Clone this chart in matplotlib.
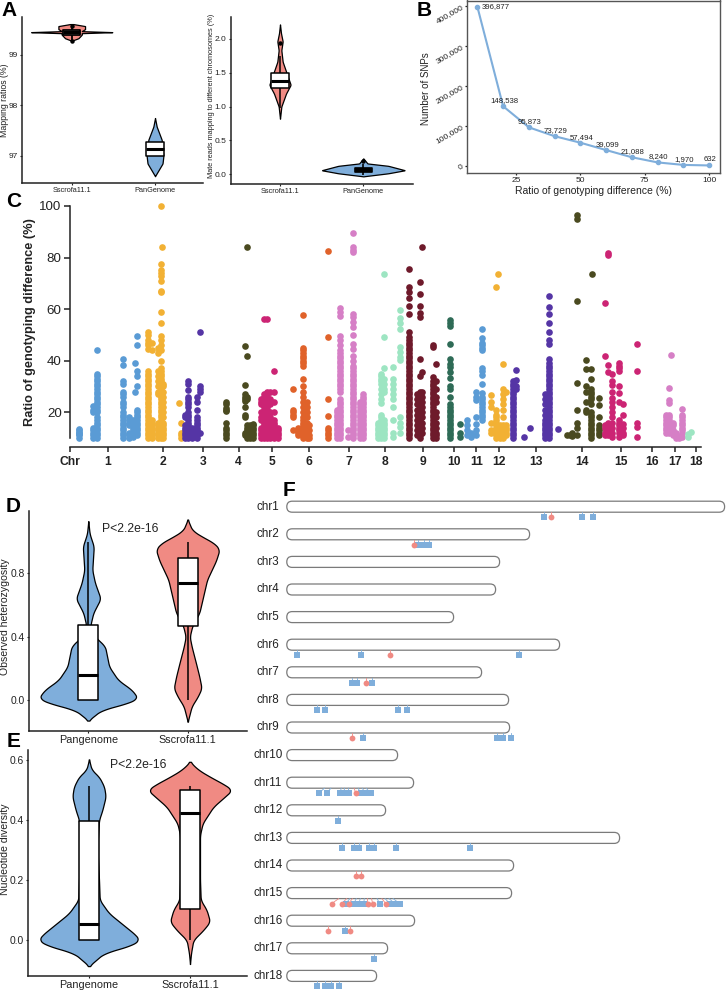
#!/usr/bin/env python3
"""Multi panel figure: mapping violins, SNP curve, Manhattan plot, chromosome map."""
import numpy as np
import matplotlib
matplotlib.use('Agg')
import matplotlib.pyplot as plt
from matplotlib.patches import FancyBboxPatch

plt.rcParams['font.family'] = ['Liberation Sans', 'DejaVu Sans']

W, H = 726, 992
RED = '#F08A83'
BLUE = '#7FAEDB'
INK = '#222222'

# --- panel A: violin outlines as (value, half width) ---
a1_scr_y = [99.61, 99.57, 99.51, 99.47, 99.45, 99.43, 99.40, 99.33, 99.28]
a1_scr_w = [0.02, 0.16, 0.16, 0.12, 0.50, 0.12, 0.12, 0.08, 0.0]
a1_pan_y = [97.75, 97.58, 97.32, 96.99, 96.85, 96.60]
a1_pan_w = [0.0, 0.02, 0.08, 0.10, 0.09, 0.0]
a2_scr_y = [2.21, 2.08, 1.96, 1.83, 1.66, 1.49, 1.32, 1.19, 1.0, 0.82]
a2_scr_w = [0.0, 0.012, 0.032, 0.016, 0.032, 0.08, 0.128, 0.072, 0.016, 0.0]
a2_pan_y = [0.235, 0.16, 0.125, 0.06, 0.015, -0.03]
a2_pan_w = [0.0, 0.05, 0.30, 0.50, 0.30, 0.0]

# --- panel B ---
ratio_x = [10, 20, 30, 40, 50, 60, 70, 80, 90, 100]
snp_counts = [396877, 148538, 95873, 73729, 57494, 39099, 21088, 8240, 1970, 632]

# --- panel C: (position, ratios) columns per chromosome ---
chr1_pts = [(79, [10, 11, 11.5, 12, 12.5, 13, 13.5]),
            (93, [10, 11, 12, 13, 14, 20, 21, 22.5]),
            (97, [10, 11, 12, 13, 14, 15, 16, 17, 18, 20, 21, 22, 23, 24, 25, 26, 27, 28, 29, 30, 31, 32, 33, 34, 35, 44]),
            (123, [10, 11, 12, 13, 14, 15, 16, 17, 18, 19, 20, 22, 23, 24, 26, 27, 28, 31, 32, 38.5, 40.5]),
            (129, [10, 11, 12, 15, 16, 17, 18]),
            (133, [10.5, 11, 12, 13, 14, 15, 16, 17]),
            (135, [12, 13, 14, 28, 39]),
            (137, [11, 12, 13, 14, 15, 16, 17, 18, 19, 20, 21, 30, 34, 36, 46, 49.5])]
chr2_pts = [(148, [10, 11, 12, 13, 14, 15, 16, 17, 18, 19, 20, 21, 22, 23, 24, 25, 26, 27, 28, 29, 30, 31, 32, 33, 34, 35, 36, 44.5, 46, 47, 48, 50, 51]),
            (152, [10, 11, 12, 13, 14, 15, 16, 17, 44, 47]),
            (158, [10, 11, 12, 13, 14, 15, 16, 27, 28, 30, 32, 34, 36, 43, 45]),
            (160.7, [10, 11, 12, 13, 14, 15, 16, 17, 18, 19, 20, 21, 22, 23, 24, 25, 26, 27, 28, 29, 30, 31, 32, 33, 34, 35, 36, 37, 40, 44, 46, 48, 49.5, 54.5, 59, 66.5, 67, 71, 73, 74, 75, 77.5, 100]),
            (162, [84]),
            (163, [10, 11, 12, 13, 14, 15, 16, 18, 20, 22, 24, 26, 28, 30, 31]),
            (179, [23.5]),
            (181, [10, 11, 12, 16])]
chr3_pts = [(185, [10, 11, 12, 13, 14, 15, 18, 19]),
            (188, [10, 11, 12, 13, 14, 15, 16, 17, 18, 19, 20, 22, 23, 24, 25, 26, 28.5, 31, 32]),
            (192, [10, 11, 12, 13, 14]),
            (196.7, [10, 11, 12, 13, 14, 15, 16, 17, 18, 21, 24, 26]),
            (200, [12, 28, 29, 30, 51])]
chr4_pts = [(226, [10, 11, 12, 13, 14, 16, 20.5, 21, 21.5, 23, 24]),
            (245, [11, 12, 18, 19, 22, 24.5, 25, 26, 27, 30.5, 45.5]),
            (247, [10, 11, 12, 13, 14, 15, 25, 26, 42, 84]),
            (250, [10, 11, 12, 13, 14, 15]),
            (253, [10, 11, 12, 13, 14, 15, 15.5])]
chr5_pts = [(261, [10, 11, 12, 13, 14, 17, 18, 20, 23, 24, 25]),
            (264, [10, 11, 12, 13, 14, 15, 16, 17, 18, 19, 20, 21, 22, 23, 24, 25, 26, 27, 56]),
            (267, [10, 11, 12, 13, 14, 15, 16, 17, 18, 19, 20, 21, 22, 23, 24, 25, 26, 27, 28, 56]),
            (270, [10, 11, 12, 13, 14, 15, 16, 17, 18, 20, 23, 25, 28]),
            (274, [10, 11, 12, 13, 14, 15, 16, 17, 20, 24, 28, 35.8]),
            (278, [10, 11, 12, 13, 14])]
chr6_pts = [(293, [13, 18, 19, 20, 21, 29]),
            (298, [11, 12, 13, 14]),
            (302.7, [10, 11, 12, 13, 14, 15, 16, 17, 18, 20, 22, 24, 26, 28, 30, 33, 38, 39, 40, 41, 42, 43, 44, 45, 57.7]),
            (306.7, [10, 11, 12, 14, 16, 18, 20, 22, 24]),
            (309, [10, 11, 13, 15]),
            (328, [10, 11, 12, 13, 14, 18.7, 25.3, 49, 82.5])]
chr7_pts = [(337, [10, 11, 12, 13, 14, 15, 16, 17, 18, 19, 20, 21]),
            (340, [10, 11, 12, 13, 14, 15, 16, 17, 18, 19, 20, 21, 22, 23, 24, 25, 28, 29, 30, 31, 32, 33, 34, 35, 36, 37, 38, 39, 40, 41, 42, 43, 44, 46, 48, 49.5, 57.5, 59, 60.5]),
            (348, [10.5, 13]),
            (353, [10, 11, 12, 13, 14, 15, 16, 17, 18, 19, 20, 21, 22, 23, 24, 25, 26, 27, 28, 29, 30, 31, 32, 33, 34, 35, 36, 37, 38, 40, 42, 44.5, 46.5, 50, 53, 55, 57, 58, 82, 83, 84, 89.5]),
            (360, [10, 11, 12, 13, 14, 15, 16, 17, 18, 19, 20, 21, 22, 23, 24]),
            (363, [10, 11, 12, 13, 14, 15, 16, 17, 18, 19, 20, 21, 22, 23, 24, 25, 26, 27])]
chr8_pts = [(378, [10, 11, 12, 13, 14, 15, 16]),
            (381, [10, 11, 12, 13, 14, 15, 16, 17, 18, 19, 23.4, 25, 27, 29, 31, 32, 33, 34, 35]),
            (384, [10, 11, 12, 13, 14, 15, 16, 17, 28, 29, 31, 33, 37, 49.3, 73.6]),
            (393, [10.2, 11.8, 17, 22, 25.3, 27, 29, 31, 33, 37.4]),
            (400, [11.8, 14.4, 16, 18, 40.2, 41.5, 43.5, 45.4, 52.3, 54.5, 56.7, 59.6])]
chr9_pts = [(408.7, [10, 11, 12, 13, 14, 15, 16, 17, 18, 19, 20, 21, 22, 23, 24, 25, 26, 27, 28, 29, 30, 31, 32, 33, 34, 35, 36, 37, 38, 39, 40, 41, 42, 43, 44, 45, 46, 47, 48, 49, 51.2, 58, 61.3, 64.2, 66.8, 68.4, 75.4]),
            (417, [11, 13, 15, 17, 19, 21, 23, 25, 27]),
            (419.7, [10, 11, 12, 13, 14, 15, 16, 17, 18, 19, 20, 21, 22, 23, 24, 25, 26, 27, 28, 34, 40.6, 57, 58.6, 61.2, 65.7, 70.6]),
            (422.3, [12, 14, 16, 18, 20, 22, 24, 26, 28, 35.7, 84.2]),
            (433, [10, 11, 12, 13, 14, 15, 16, 17, 18, 19, 20, 21, 22, 23, 24, 25, 26, 27, 28, 29, 30, 31, 32, 33.8, 45.4, 46]),
            (436, [10, 11, 12, 14, 16, 18, 20, 24, 26, 29, 32, 38.9])]
chr10_pts = [(450.3, [10, 11, 12, 13, 14, 15, 16, 17, 18, 19, 20, 21, 22, 23, 26, 29, 30, 33.4, 35.7, 37.6, 38.9, 40.6, 46.3, 53.4, 54.5, 55.8]),
             (459.7, [10.5, 11.8, 15.3])]
chr11_pts = [(467, [11, 13, 15, 17]),
             (471, [10.5, 12]),
             (475.7, [11, 13, 15.6, 18, 24.6, 26, 28]),
             (482.3, [17, 18, 19, 20, 21, 22, 23, 24, 25, 26, 27.3, 30.9, 34.4, 36, 37, 44, 45, 46, 47, 48.6, 52.1])]
chr12_pts = [(491.3, [11.8, 13, 15.7, 22, 24, 26.6]),
             (496.3, [10, 11, 12, 13, 14, 15, 16, 17, 18, 19, 20.8, 68.4]),
             (497.7, [73.6]),
             (500, [10, 11, 12, 13, 14, 15]),
             (503, [10, 11, 12, 13, 14, 15, 18, 21, 23, 25, 27, 29, 38.9]),
             (506, [11, 12, 13, 14, 15, 28])]
chr13_pts = [(513, [10, 11, 12, 13, 14, 15, 16, 17, 18, 19, 20, 21, 22, 23, 24, 25, 26, 27, 28, 29, 30, 31, 32]),
             (515.7, [29, 30, 32.5, 36.4]),
             (524, [10.5]),
             (529.7, [14]),
             (544.7, [10, 11, 12, 13, 14, 15, 16, 17, 19, 21, 23, 25, 27]),
             (549, [10, 11, 12, 13, 14, 15, 16, 17, 18, 19, 20, 21, 22, 23, 24, 25, 26, 27, 28, 29, 30, 31, 32, 33, 34, 35, 36, 37, 38, 39, 40.6, 46.3, 48, 51.2, 54.5, 58, 60.7, 65]),
             (558.3, [13.5])]
chr14_pts = [(567, [11.1]), (570, [11.1]), (571.5, [10.8, 12]),
             (577.3, [11, 13.7, 16, 20.8, 31.2, 63, 94.8, 96.5]),
             (586, [20, 21, 24, 28, 30, 40.2, 36.7]),
             (590.7, [10, 11, 12, 13, 14, 15, 16, 17, 18, 19, 20, 23, 25, 26, 27, 28, 29, 32.7, 36.7]),
             (592, [73.6]),
             (599, [11, 12, 13, 14, 15, 18, 22.8, 25.4])]
chr15_pts = [(605.3, [11, 12, 14, 15, 42, 62.2]),
             (608.3, [11, 12, 13, 14, 15, 16, 38.3, 35.7, 81, 81.6]),
             (612.3, [10.5, 12, 14, 16, 18, 20, 22, 24, 25.5, 28, 30.7, 32, 35]),
             (619, [10.5, 12, 13, 14, 15, 16, 17, 24, 27.5, 30, 36, 37, 38, 39]),
             (623, [11, 12, 14, 15.5, 19, 23]),
             (637.3, [10.5, 14.4, 16, 36, 46.3])]
chr17_pts = [(666, [12, 13, 14, 15, 16, 17, 18, 19]),
             (669, [12, 13, 14, 15, 16, 17, 18, 19, 23.4, 24.7, 29.5]),
             (670.7, [42.2]),
             (673, [11, 12, 13, 15, 16]),
             (676, [10, 11, 12]),
             (679, [10, 10.5]),
             (682, [10.5, 12, 13, 14, 15, 16, 17, 18, 19, 21.4])]
chr18_pts = [(688, [10.2, 11.5]), (690.7, [12.5])]

manhattan = [(chr1_pts, '#5A9BD5'), (chr2_pts, '#F2B134'), (chr3_pts, '#5535A5'),
             (chr4_pts, '#4A4A20'), (chr5_pts, '#CC2474'), (chr6_pts, '#E0622A'),
             (chr7_pts, '#D67FC6'), (chr8_pts, '#9DE5C2'), (chr9_pts, '#6E1A2B'),
             (chr10_pts, '#2E6B56'), (chr11_pts, '#5A9BD5'), (chr12_pts, '#F2B134'),
             (chr13_pts, '#5535A5'), (chr14_pts, '#4A4A20'), (chr15_pts, '#CC2474'),
             (chr17_pts, '#D67FC6'), (chr18_pts, '#9DE5C2')]
chr_ticks = [70, 107.7, 163, 203, 238.7, 271.7, 309, 349, 385, 423, 454, 476.3, 498.7,
             536.3, 582, 620.7, 652.3, 674.7, 696.3]
chr_tick_labels = ['Chr', '1', '2', '3', '4', '5', '6', '7', '8', '9', '10', '11', '12',
                   '13', '14', '15', '16', '17', '18']

# --- panel D ---
d_pan_y = [1.13, 1.05, 0.97, 0.82, 0.74, 0.64, 0.55, 0.47, 0.40, 0.34, 0.21, 0.126, 0.063, 0.01, -0.02, -0.063, -0.13]
d_pan_w = [0, 0.013, 0.055, 0.04, 0.067, 0.124, 0.05, 0.02, 0.067, 0.168, 0.21, 0.30, 0.44, 0.50, 0.40, 0.134, 0]
d_scr_y = [1.14, 1.07, 1.03, 0.99, 0.95, 0.88, 0.76, 0.55, 0.47, 0.40, 0.337, 0.23, 0.147, 0.074, 0.02, -0.04, -0.137]
d_scr_w = [0, 0.047, 0.15, 0.27, 0.32, 0.285, 0.195, 0.117, 0.047, 0.02, 0.04, 0.084, 0.117, 0.14, 0.10, 0.04, 0]
d_pan_box = [0.0, 0.158, 0.474, 0.0, 1.0]
d_scr_box = [0.47, 0.737, 0.895, 0.0, 1.0]

# --- panel E ---
e_pan_y = [0.602, 0.567, 0.544, 0.511, 0.478, 0.433, 0.40, 0.311, 0.20, 0.133, 0.089, 0.044, 0.017, 0.0, -0.017, -0.044, -0.087]
e_pan_w = [0, 0.026, 0.10, 0.15, 0.165, 0.132, 0.099, 0.083, 0.099, 0.106, 0.198, 0.363, 0.462, 0.50, 0.43, 0.149, 0]
e_scr_y = [0.594, 0.567, 0.544, 0.517, 0.50, 0.483, 0.444, 0.389, 0.35, 0.20, 0.133, 0.10, 0.061, 0.033, 0.0, -0.044, -0.08]
e_scr_w = [0, 0.083, 0.198, 0.347, 0.419, 0.363, 0.231, 0.125, 0.099, 0.099, 0.106, 0.165, 0.198, 0.132, 0.033, 0.01, 0]
e_pan_box = [0.0, 0.052, 0.398, 0.0, 0.514]
e_scr_box = [0.102, 0.424, 0.50, 0.0, 0.514]

# --- panel F ---
chr_names = ['chr%d' % i for i in range(1, 19)]
chr_lengths = [438, 243, 213, 209, 167, 273, 195, 222, 223, 111, 127, 99, 333, 227, 225, 128, 101, 90]
blue_sites = {1: [257, 295, 306], 2: [131, 137, 142], 6: [10, 74, 232], 7: [65, 70, 85],
              8: [30, 38, 111, 120], 9: [76, 210, 216, 224],
              11: [32, 40, 53, 57, 62, 74, 79, 84], 12: [51],
              13: [55, 67, 72, 82, 87, 109, 183],
              15: [59, 67, 72, 77, 93, 103, 108, 113], 16: [58], 17: [87], 18: [30, 38, 44, 52]}
red_sites = {1: [264], 2: [127], 6: [103], 7: [79], 9: [65], 11: [69], 14: [69, 74],
             15: [45, 55, 62, 81, 86, 99], 16: [41, 63]}
crowded_rows = [11, 15]


def px_axes(fig, left, top, right, bottom):
    return fig.add_axes([left / W, 1 - bottom / H, (right - left) / W, (bottom - top) / H])


def classic(ax, lw=1.1, size=6, ticklen=1.5):
    ax.spines['top'].set_visible(False)
    ax.spines['right'].set_visible(False)
    ax.spines['left'].set_linewidth(lw)
    ax.spines['bottom'].set_linewidth(lw)
    ax.spines['left'].set_color(INK)
    ax.spines['bottom'].set_color(INK)
    ax.tick_params(labelsize=size, length=ticklen, width=0.8, pad=1.5, colors=INK)
    ax.patch.set_alpha(0)


def ylabel_at(ax, text, px_x, left, right, y=0.5, **kw):
    # px_x is the right edge of the rotated label
    ax.set_ylabel(text, color=INK, **kw)
    ax.yaxis.set_label_coords((px_x - left) / (right - left), y)


def violin(ax, cx, ys, ws, color, lw=0.9, smooth=15):
    order = np.argsort(ys)
    ys = np.array(ys, dtype=float)[order]
    ws = np.array(ws, dtype=float)[order]
    yy = np.linspace(ys[0], ys[-1], 400)
    hw = np.interp(yy, ys, ws)
    hw = np.convolve(hw, np.ones(smooth) / smooth, mode='same')
    ax.fill_betweenx(yy, cx - hw, cx + hw, facecolor=color, edgecolor='black', linewidth=lw, zorder=2)


def box(ax, cx, stats, hw, lw=1.1, med_lw=2.2):
    q1, med, q3, low, high = stats
    ax.plot([cx, cx], [low, high], color='black', lw=lw, zorder=3, solid_capstyle='butt')
    ax.fill_between([cx - hw, cx + hw], q1, q3, facecolor='white', edgecolor='black', linewidth=lw, zorder=4)
    ax.plot([cx - hw, cx + hw], [med, med], color='black', lw=med_lw, zorder=5, solid_capstyle='butt')


def panel_letter(fig, x, y, s):
    fig.text(x / W, 1 - y / H, s, fontsize=15, fontweight='bold', color='black', ha='left', va='baseline')


fig = plt.figure(figsize=(W / 100, H / 100), dpi=100)
fig.patch.set_facecolor('white')

# panel A, left
ax = px_axes(fig, 22, 17, 203, 182.7)
classic(ax)
ax.set_xlim(0.403, 2.576)
ax.set_ylim(96.47, 99.75)
violin(ax, 1, a1_scr_y, a1_scr_w, RED, smooth=3)
violin(ax, 2, a1_pan_y, a1_pan_w, BLUE, smooth=9)
box(ax, 1, [99.39, 99.45, 99.49, 99.30, 99.58], 0.10, lw=1.3, med_lw=2.5)
box(ax, 2, [97.0, 97.14, 97.28, 97.0, 97.28], 0.105, lw=1.1)
ax.plot([1, 1], [99.28, 99.58], 'o', color='black', ms=2.2, zorder=6)
ax.set_xticks([1, 2], ['Sscrofa11.1', 'PanGenome'], fontsize=5.3)
ax.set_yticks([97, 98, 99])
ylabel_at(ax, 'Mapping ratios (%)', 9.5, 22, 203, fontsize=6.3)

# panel A, right
ax = px_axes(fig, 230.7, 17, 413, 184)
classic(ax)
ax.set_xlim(1 - 49.3 / 83.3, 2 + 49.7 / 83.3)
ax.set_ylim(-0.143, 2.32)
violin(ax, 1, a2_scr_y, a2_scr_w, RED, smooth=9)
violin(ax, 2, a2_pan_y, a2_pan_w, BLUE, smooth=9)
box(ax, 1, [1.27, 1.37, 1.50, 0.98, 1.75], 0.105, lw=1.1)
box(ax, 2, [0.03, 0.06, 0.10, -0.01, 0.15], 0.105, lw=1.2, med_lw=3)
ax.plot([1, 2], [1.94, 0.2], 'o', color='black', ms=2.2, zorder=6)
ax.set_xticks([1, 2], ['Sscrofa11.1', 'PanGenome'], fontsize=5.3)
ax.set_yticks([0, 0.5, 1, 1.5, 2], ['0.0', '0.5', '1.0', '1.5', '2.0'])
ylabel_at(ax, 'Mate reads mapping to different chromosomes (%)', 215, 230.7, 413, y=0.527, fontsize=5.3)

# panel B
ax = px_axes(fig, 466.7, 0.5, 720, 173)
ax.set_xlim(25 - 49.3 / 2.573, 100 + 11 / 2.573)
ax.set_ylim(-18250, 412900)
ax.plot(ratio_x, snp_counts, color=BLUE, lw=1.5, marker='o', ms=3, zorder=3)
for i, (x, y) in enumerate(zip(ratio_x, snp_counts)):
    if i == 0:
        ax.annotate(f'{y:,}', (x, y), xytext=(3.2, 0), textcoords='offset points', fontsize=5.6,
                    color=INK, ha='left', va='center')
    else:
        ax.annotate(f'{y:,}', (x, y), xytext=(0.8, 4), textcoords='offset points', fontsize=5.6,
                    color=INK, ha='center', va='center')
for sp in ax.spines.values():
    sp.set_color('#555555')
    sp.set_linewidth(1.0)
ax.set_xticks([25, 50, 75, 100])
ax.set_yticks([0, 100000, 200000, 300000, 400000], ['0', '100,000', '200,000', '300,000', '400,000'])
ax.tick_params(labelsize=6, length=1.5, width=0.9, pad=1.5, colors=INK)
for lab in ax.get_yticklabels():
    lab.set_rotation(30)
    lab.set_rotation_mode('anchor')
    lab.set_ha('right')
ax.set_xlabel('Ratio of genotyping difference (%)', fontsize=7.5, color=INK, labelpad=1)
ylabel_at(ax, 'Number of SNPs', 431, 466.7, 720, y=0.487, fontsize=7)

# panel C
ax = px_axes(fig, 70, 206, 701, 438)
classic(ax, lw=1.1)
ax.set_xlim(70, 701)
ax.set_ylim(10, 100)
ax.spines['bottom'].set_position(('outward', 6.5))
for pts, color in manhattan:
    for x, ys in pts:
        ax.scatter([x] * len(ys), ys, s=23, color=color, linewidths=0, clip_on=False, zorder=3)
ax.set_yticks([20, 40, 60, 80, 100])
ax.tick_params(axis='y', labelsize=9.6, length=4, width=1.1, pad=2, colors=INK)
ax.set_xticks(chr_ticks, chr_tick_labels)
ax.tick_params(axis='x', length=3.5, width=1.1, pad=3, colors=INK, labelsize=8.7)
for lab in ax.get_xticklabels():
    lab.set_fontweight('bold')
ylabel_at(ax, 'Ratio of genotyping difference (%)', 36, 70, 701, fontsize=9.2, fontweight='bold')

# panel D
ax = px_axes(fig, 29.3, 510.7, 246.7, 731)
classic(ax, size=7.4)
ax.set_xlim(1 - 59 / 99.4, 2 + 59 / 99.4)
ax.set_ylim((700 - 731) / 158.3, (700 - 510.7) / 158.3)
violin(ax, 1, d_pan_y, d_pan_w, BLUE)
violin(ax, 2, d_scr_y, d_scr_w, RED)
box(ax, 1, d_pan_box, 0.10)
box(ax, 2, d_scr_box, 0.10)
ax.set_xticks([1, 2], ['Pangenome', 'Sscrofa11.1'], fontsize=7.8)
ax.set_yticks([0, 0.4, 0.8], ['0.0', '0.4', '0.8'])
ylabel_at(ax, 'Observed heterozygosity', 10, 29.3, 246.7, y=0.52, fontsize=7.6)
ax.text(1.42, 1.08, 'P<2.2e-16', fontsize=8.8, color=INK, ha='center', va='center')

# panel E
ax = px_axes(fig, 28.3, 750, 246.7, 975.7)
classic(ax, size=7.4)
ax.set_xlim(1 - 60.7 / 101, 2 + 56.7 / 101)
ax.set_ylim((940 - 975.7) / 300, (940 - 750) / 300)
violin(ax, 1, e_pan_y, e_pan_w, BLUE)
violin(ax, 2, e_scr_y, e_scr_w, RED)
box(ax, 1, e_pan_box, 0.10)
box(ax, 2, e_scr_box, 0.10)
ax.set_xticks([1, 2], ['Pangenome', 'Sscrofa11.1'], fontsize=7.8)
ax.set_yticks([0, 0.2, 0.4, 0.6], ['0.0', '0.2', '0.4', '0.6'])
ylabel_at(ax, 'Nucleotide diversity', 10, 28.3, 246.7, y=0.56, fontsize=7.6)
ax.text(1.49, 0.582, 'P<2.2e-16', fontsize=8.8, color=INK, ha='center', va='center')

# panel F, x and y both in figure pixels from the left end of the bars
ax = px_axes(fig, 250, 495, 726, 992)
ax.set_xlim(-36.7, 439.3)
ax.set_ylim(497, 0)
ax.axis('off')
for i, (name, length) in enumerate(zip(chr_names, chr_lengths)):
    yc = 11.7 + i * 27.6
    bar = FancyBboxPatch((5.5, yc - 0.1), length - 11, 0.2,
                         boxstyle='round,pad=5.4,rounding_size=5.4',
                         facecolor='white', edgecolor='#7A7A7A', linewidth=0.9)
    ax.add_patch(bar)
    ax.text(-18.7, yc, name, fontsize=8.4, color=INK, ha='center', va='center')
    row = i + 1
    blues = blue_sites.get(row, [])
    reds = red_sites.get(row, [])
    mid = np.mean(blues + reds) if (blues or reds) else 0
    for sites, color, marker, ms, z in [(blues, BLUE, 's', 3.9, 3), (reds, RED, 'o', 4.2, 4)]:
        for x in sites:
            top = x + (mid - x) * 0.2 if row in crowded_rows else x
            ax.plot([top, x], [yc + 5.5, yc + 10.5], color=color, lw=0.6, zorder=2)
            ax.plot(x, yc + 10.5, marker, color=color, ms=ms, mew=0, zorder=z)

panel_letter(fig, 1, 16, 'A')
panel_letter(fig, 417, 16, 'B')
panel_letter(fig, 6, 207, 'C')
panel_letter(fig, 6, 512, 'D')
panel_letter(fig, 7, 747, 'E')
panel_letter(fig, 283, 496, 'F')

fig.savefig('out.png', dpi=100, facecolor='white')
plt.close(fig)
